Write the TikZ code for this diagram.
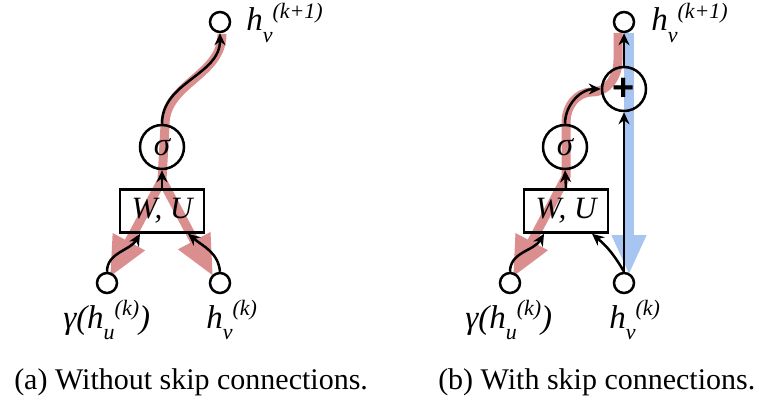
\documentclass[tikz,border=0pt]{standalone}
\usepackage{fontspec}
\setmainfont{Liberation Serif}
\setsansfont{Liberation Sans}
\usetikzlibrary{arrows.meta}
\definecolor{flowred}{RGB}{219,142,142}
\definecolor{flowblue}{RGB}{168,196,240}
\newcommand{\hlab}[3]{#1\raisebox{-0.36em}{\fontsize{22}{22}\selectfont #2}\raisebox{0.38em}{\fontsize{22}{22}\selectfont #3}}
\tikzset{
  smallnode/.style={circle, draw, line width=2.5pt, minimum size=20pt, inner sep=0pt},
  opnode/.style={circle, draw, line width=2.5pt, minimum size=44pt, inner sep=0pt, font=\fontsize{33}{33}\selectfont\itshape},
  wubox/.style={rectangle, draw, line width=2.5pt, minimum width=84pt, minimum height=43pt, inner sep=0pt, font=\fontsize{31}{31}\selectfont\itshape},
  lbl/.style={anchor=base west, inner sep=0pt, font=\fontsize{33}{38}\selectfont\itshape},
  captext/.style={anchor=base west, inner sep=0pt, font=\fontsize{30}{36}\selectfont},
  redband/.style={draw=flowred, line width=9pt, line join=round, -{Triangle[length=40pt,width=34pt]}},
  blueband/.style={draw=flowblue, line width=10pt, -{Triangle[length=40pt,width=32pt]}}
}
\begin{document}
\begin{tikzpicture}[x=1pt, y=1pt, >={Stealth[length=12pt,width=11pt]}, line width=2.5pt]
    \useasboundingbox (0,0) rectangle (759,402);

    % (a) without skip connections
    \coordinate (redAtop) at (222,368);
    \coordinate (redAsig) at (165,277);
    \coordinate (splitA) at (162,222);
    \coordinate (tipAL) at (110,125);
    \coordinate (tipAR) at (213,126);
    \draw[redband] (redAtop) to[out=-90,in=90] (redAsig) -- (splitA) -- (tipAL);
    \draw[redband] (splitA) -- (tipAR);

    \node[smallnode] (outA) at (220,380) {};
    \node[opnode] (sigA) at (162,255) {σ};
    \node[wubox] (wuA) at (162,191) {W, U};
    \node[smallnode] (guA) at (107,119) {};
    \node[smallnode] (hvA) at (220,119) {};

    \node[lbl] (outAlbl) at (245,371) {\hlab{h}{v}{(k+1)}};
    \node[lbl] (guAlbl) at (62,74) {γ(\hlab{h}{u}{(k)})};
    \node[lbl] (hvAlbl) at (205,74) {\hlab{h}{v}{(k)}};
    \node[captext] (capA) at (13,13) {(a) Without skip connections.};

    \draw[->] (guA.north) to[out=90,in=240] ([xshift=-22pt]wuA.south);
    \draw[->] (hvA.north) to[out=95,in=-40] ([xshift=26pt]wuA.south);
    \draw[->] (wuA.north) -- (sigA.south);
    \draw[->] (sigA.north) to[out=90,in=-90] (outA.south);

    % (b) with skip connections
    \coordinate (redBtop) at (618,369);
    \coordinate (redBbend) at (618,342);
    \coordinate (redBmid) at (592,310);
    \coordinate (redBsig) at (566,280);
    \coordinate (splitB) at (566,225);
    \coordinate (tipBL) at (513,125);
    \coordinate (blueBtop) at (629,369);
    \coordinate (tipBR) at (629,127);
    \draw[blueband] (blueBtop) -- (tipBR);
    \draw[redband] (redBtop) -- (redBbend) to[out=-90,in=0] (redBmid) to[out=180,in=90] (redBsig) -- (splitB) -- (tipBL);

    \node[smallnode] (outB) at (624,380) {};
    \node[opnode, font=\fontsize{38}{38}\selectfont\sffamily\bfseries] (plusB) at (624,313) {+};
    \node[opnode] (sigB) at (565,255) {σ};
    \node[wubox] (wuB) at (566,191) {W, U};
    \node[smallnode] (guB) at (510,119) {};
    \node[smallnode] (hvB) at (624,119) {};

    \node[lbl] (outBlbl) at (650,371) {\hlab{h}{v}{(k+1)}};
    \node[lbl] (guBlbl) at (464,74) {γ(\hlab{h}{u}{(k)})};
    \node[lbl] (hvBlbl) at (608,74) {\hlab{h}{v}{(k)}};
    \node[captext] (capB) at (437,13) {(b) With skip connections.};

    \draw[->] (guB.north) to[out=90,in=240] ([xshift=-22pt]wuB.south);
    \draw[->] (hvB.north) to[out=120,in=-40] ([xshift=26pt]wuB.south);
    \draw[->] (hvB.north) -- (plusB.south);
    \draw[->] (wuB.north) -- (sigB.south);
    \draw[->] (sigB.north) to[out=90,in=180] (plusB.west);
    \draw[->] (plusB.north) -- (outB.south);
\end{tikzpicture}
\end{document}
